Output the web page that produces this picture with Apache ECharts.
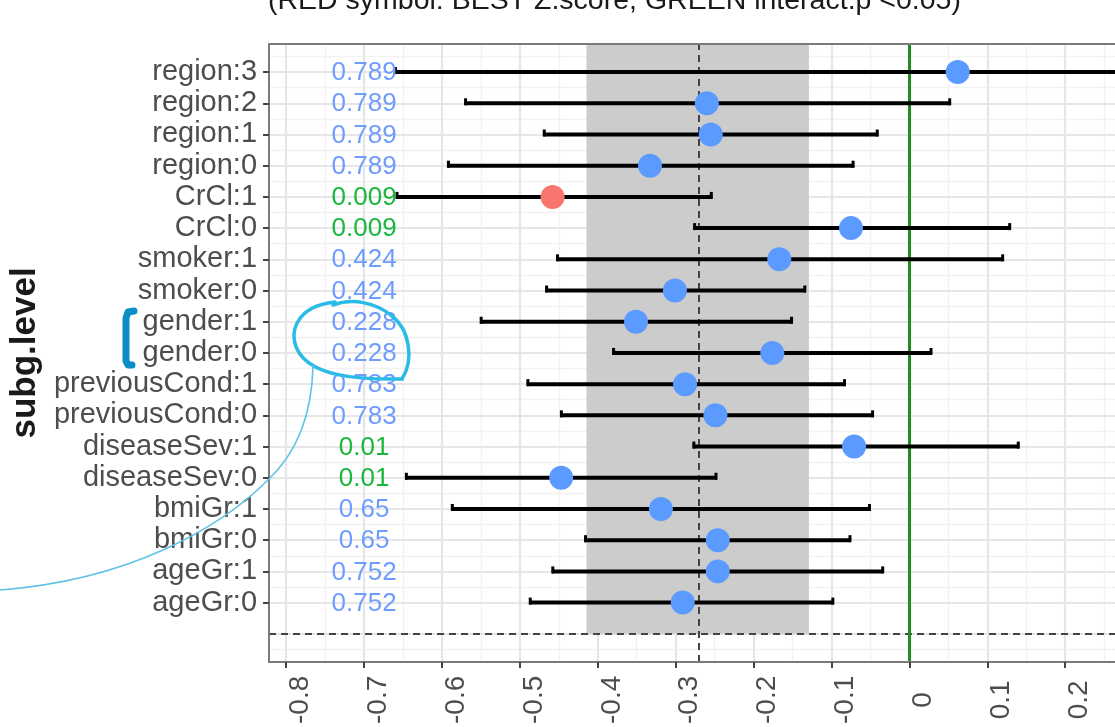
<!DOCTYPE html>
<html><head><meta charset="utf-8">
<script src="https://cdn.jsdelivr.net/npm/echarts@6/dist/echarts.min.js"></script>
<style>html,body{margin:0;padding:0;background:#fff;overflow:hidden}#c{width:1115px;height:727px}</style>
</head><body><div id="c"></div>
<script>
// ---- data (bottom row first) ----
const subgroups = ['ageGr:0','ageGr:1','bmiGr:0','bmiGr:1','diseaseSev:0','diseaseSev:1',
  'previousCond:0','previousCond:1','gender:0','gender:1','smoker:0','smoker:1',
  'CrCl:0','CrCl:1','region:0','region:1','region:2','region:3'];
const estimates = [-0.291,-0.246,-0.246,-0.319,-0.447,-0.071,-0.249,-0.288,-0.176,-0.351,-0.301,-0.167,-0.075,-0.458,-0.333,-0.255,-0.260,0.062];
const lowerCI   = [-0.488,-0.459,-0.417,-0.588,-0.647,-0.278,-0.448,-0.491,-0.381,-0.551,-0.467,-0.453,-0.277,-0.659,-0.593,-0.470,-0.571,-0.661];
const upperCI   = [-0.097,-0.033,-0.075,-0.050,-0.247,0.141,-0.046,-0.082,0.029,-0.150,-0.133,0.121,0.130,-0.253,-0.071,-0.040,0.053,0.330];
const interactP = ['0.752','0.752','0.65','0.65','0.01','0.01','0.783','0.783','0.228','0.228','0.424','0.424','0.009','0.009','0.789','0.789','0.789','0.789'];
const bestSubgroup = 'CrCl:1';
const overallEstimate = -0.2715;
const overallBand = [-0.4145, -0.129];
const nullValue = 0;
const xTickValues = [-0.8,-0.7,-0.6,-0.5,-0.4,-0.3,-0.2,-0.1,0,0.1,0.2];
const xMinorValues = [-0.75,-0.65,-0.55,-0.45,-0.35,-0.25,-0.15,-0.05,0.05,0.15,0.25];
const titleText = '(RED symbol: BEST Z.score, GREEN interact.p <0.05)';
const yTitle = 'subg.level';
const pTextX = -0.7;

// ---- derived ----
const rows = subgroups.map((s, i) => i + 1);
const yMajor = [0].concat(rows);
const yMinor = [-0.5].concat(rows.map(r => r + 0.5)).filter(v => v < 18.9);
const FONT = '"Liberation Sans", Arial, sans-serif';
const BLUE = '#5b9bff', RED = '#f8766d';
const P_BLUE = '#6f9cff', P_GREEN = '#19b83c';
const FRAME = '#7b7b7b';

const chart = echarts.init(document.getElementById('c'), null, {renderer: 'canvas'});
const gridLeft = 268, pxPerUnit = 780;
const xMin = -0.822, xMax = xMin + (1115 - gridLeft) / pxPerUnit;
const yMin = -0.9, yMax = 18.9;

function bz(x1, y1, c1x, c1y, c2x, c2y, x2, y2, stroke, w) {
  return {type: 'bezierCurve', z: 100, silent: true,
    shape: {x1: x1, y1: y1, cpx1: c1x, cpy1: c1y, cpx2: c2x, cpy2: c2y, x2: x2, y2: y2},
    style: {stroke: stroke, lineWidth: w, fill: null, lineCap: 'round'}};
}
const CIRC = '#2bbbe9', BRK = '#0b8dc9', THIN = '#5ec3e6';

const option = {
  animation: false,
  backgroundColor: '#ffffff',
  grid: {left: gridLeft, top: 44, width: 1115 - gridLeft, height: 620, show: false},
  xAxis: [{
    type: 'value', min: xMin, max: xMax, position: 'bottom', z: 10,
    axisLine: {show: true, onZero: false, lineStyle: {color: FRAME, width: 2}},
    splitLine: {show: false},
    axisTick: {show: true, length: 6, customValues: xTickValues, lineStyle: {color: '#444', width: 2}},
    axisLabel: {customValues: xTickValues, rotate: 90, margin: 38, align: 'center', verticalAlign: 'top',
      color: '#4d4d4d', fontSize: 28, fontFamily: FONT,
      formatter: v => (Math.abs(v) < 1e-9 ? '0' : String(Math.round(v * 10) / 10))}
  }, {
    type: 'value', min: xMin, max: xMax, position: 'top', z: 10,
    axisLine: {show: true, onZero: false, lineStyle: {color: FRAME, width: 2}},
    splitLine: {show: false}, axisTick: {show: false}, axisLabel: {show: false}
  }],
  yAxis: {
    type: 'value', min: yMin, max: yMax, z: 10,
    axisLine: {show: true, onZero: false, lineStyle: {color: FRAME, width: 2}},
    splitLine: {show: false},
    axisTick: {show: true, length: 6, customValues: rows, lineStyle: {color: '#444', width: 2}},
    axisLabel: {customValues: rows, margin: 12, color: '#4d4d4d', fontSize: 29, fontFamily: FONT,
      formatter: v => subgroups[Math.round(v) - 1] || ''},
    name: yTitle, nameLocation: 'middle', nameGap: 208, nameRotate: 90,
    nameTextStyle: {color: '#1a1a1a', fontSize: 35, fontWeight: 'bold', fontFamily: FONT}
  },
  graphic: [
    {type: 'text', x: 268, y: -13, z: 100, silent: true,
      style: {text: titleText, font: '28.5px ' + FONT, fill: '#1a1a1a'}},
    // hand-drawn annotations
    bz(335, 302, 296, 306, 286, 334, 300, 354, CIRC, 3.5),
    bz(300, 354, 314, 374, 350, 380, 402, 379, CIRC, 3.5),
    bz(402, 379, 414, 360, 410, 330, 392, 316, CIRC, 3.5),
    bz(392, 316, 375, 302, 352, 298, 333, 305, CIRC, 3.5),
    {type: 'polyline', z: 100, silent: true,
      shape: {points: [[134, 311], [128, 312], [126, 318], [126, 361], [128, 365], [132, 365]]},
      style: {stroke: BRK, lineWidth: 7, fill: null, lineCap: 'round', lineJoin: 'round'}},
    bz(313, 366, 312, 410, 300, 450, 268, 480, THIN, 1.6),
    bz(268, 480, 220, 528, 130, 580, 0, 590, THIN, 1.6)
  ],
  series: [
    { // grid lines
      type: 'line', data: [], z: 1, silent: true,
      markLine: {silent: true, z: 1, symbol: 'none', label: {show: false}, animation: false,
        data: [
          ...xMinorValues.map(v => ({xAxis: v, lineStyle: {color: '#f2f2f2', width: 1.3, type: 'solid'}})),
          ...yMinor.map(v => ({yAxis: v, lineStyle: {color: '#f2f2f2', width: 1.3, type: 'solid'}})),
          ...xTickValues.map(v => ({xAxis: v, lineStyle: {color: '#e6e6e6', width: 2.2, type: 'solid'}})),
          ...yMajor.map(v => ({yAxis: v, lineStyle: {color: '#e6e6e6', width: 2.2, type: 'solid'}}))
        ]}
    },
    { // overall CI band (from y=0 to top)
      type: 'line', data: [], z: 2, silent: true,
      markArea: {silent: true, z: 2, itemStyle: {color: '#cccccc'}, label: {show: false},
        data: [[{xAxis: overallBand[0], yAxis: 0}, {xAxis: overallBand[1], yAxis: yMax}]]}
    },
    { // reference lines
      type: 'line', data: [], z: 3, silent: true,
      markLine: {silent: true, z: 3, symbol: 'none', label: {show: false},
        data: [
          {xAxis: overallEstimate, lineStyle: {color: '#444', width: 2, type: [7, 5]}},
          {yAxis: 0, lineStyle: {color: '#444', width: 2, type: [7, 5]}},
          {xAxis: nullValue, lineStyle: {color: '#228b22', width: 3, type: 'solid'}}
        ]}
    },
    { // error bars
      type: 'custom', z: 4, silent: true,
      encode: {x: [0, 1], y: 2},
      data: rows.map((r, i) => [lowerCI[i], upperCI[i], r]),
      renderItem: (params, api) => {
        const a = api.coord([api.value(0), api.value(2)]);
        const b = api.coord([api.value(1), api.value(2)]);
        return {type: 'group', children: [
          {type: 'line', shape: {x1: a[0], y1: a[1], x2: b[0], y2: b[1]}, style: {stroke: '#000', lineWidth: 4}},
          {type: 'line', shape: {x1: a[0] + 1, y1: a[1] - 5, x2: a[0] + 1, y2: a[1] + 2}, style: {stroke: '#000', lineWidth: 3}},
          {type: 'line', shape: {x1: b[0] - 1, y1: b[1] - 5, x2: b[0] - 1, y2: b[1] + 2}, style: {stroke: '#000', lineWidth: 3}}
        ]};
      }
    },
    { // point estimates
      type: 'scatter', z: 5, silent: true, symbol: 'circle', symbolSize: 24,
      data: rows.map((r, i) => ({value: [estimates[i], r],
        itemStyle: {color: subgroups[i] === bestSubgroup ? RED : BLUE, opacity: 1}}))
    },
    { // interaction p-values
      type: 'custom', z: 6, silent: true,
      encode: {x: 0, y: 1},
      data: rows.map((r, i) => [pTextX, r, i]),
      renderItem: (params, api) => {
        const p = api.coord([api.value(0), api.value(1)]);
        const i = api.value(2);
        const txt = interactP[i];
        return {type: 'text', x: p[0], y: p[1] + 1,
          style: {text: txt, align: 'center', verticalAlign: 'middle', font: '26px ' + FONT,
            fill: parseFloat(txt) < 0.05 ? P_GREEN : P_BLUE}};
      }
    }
  ]
};
chart.setOption(option);
</script>
</body></html>
